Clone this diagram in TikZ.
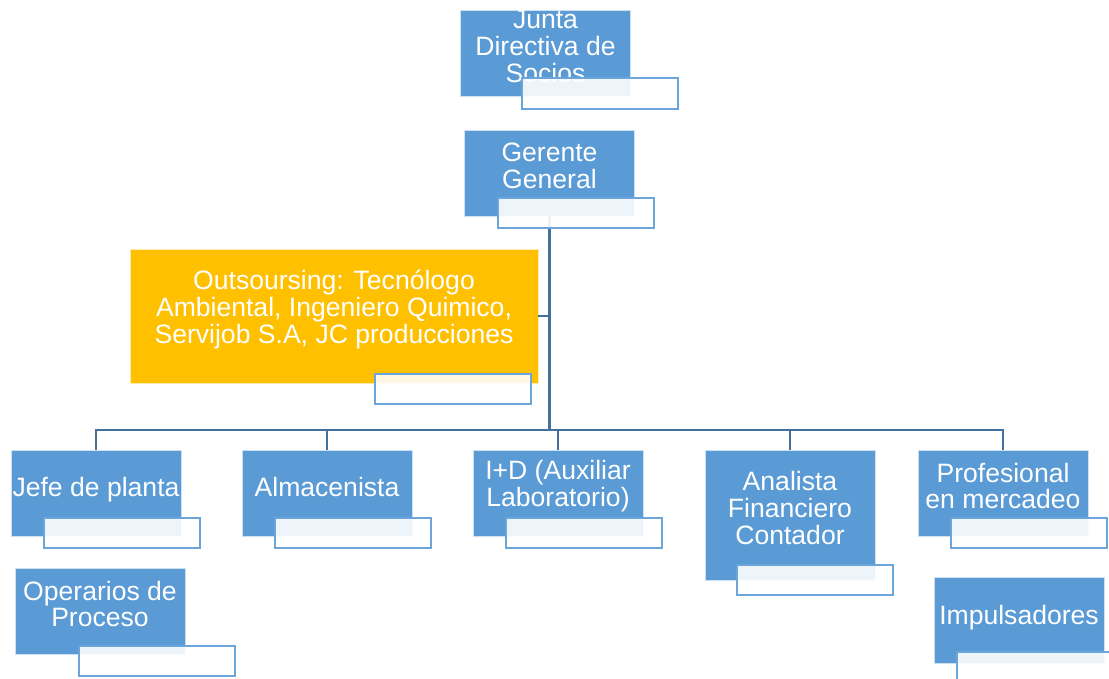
\documentclass[tikz,border=0pt]{standalone}
\usepackage{fontspec}
\setmainfont{Liberation Sans}
\definecolor{cargoazul}{HTML}{5B9BD5}
\definecolor{lineaazul}{HTML}{41719C}
\definecolor{naranja}{HTML}{FFC000}
\tikzset{cargo/.style={draw=white!70!cargoazul, line width=0.3pt, fill=cargoazul, minimum width=42.5mm, minimum height=21.5mm, inner sep=0pt}}
\tikzset{texto/.style={text=white, align=center, inner sep=0pt, font=\fontsize{18.9}{19.2}\selectfont}}
\tikzset{unalinea/.style={texto, anchor=base}}
\tikzset{titulo/.style={draw=cargoazul!90!white, line width=0.5mm, fill=white, fill opacity=0.9, minimum width=39mm, minimum height=7.5mm, inner sep=0pt}}
\tikzset{enlace/.style={draw=lineaazul, line width=0.6mm}}

\begin{document}
\begin{tikzpicture}[x=0.25mm, y=-0.25mm]
\useasboundingbox (0,0) rectangle (1109,679);
\node[cargo] (junta) at (545.5,53) {};
\node[cargo] (gerente) at (549.5,173) {};
\node[cargo, fill=naranja, draw=white!70!naranja, minimum width=102mm, minimum height=33.5mm] (outsourcing) at (334,316) {};
\node[cargo] (jefe) at (96,493) {};
\node[cargo] (almacenista) at (327,493) {};
\node[cargo] (id) at (558,493) {};
\node[cargo, minimum height=32.5mm] (analista) at (790,515) {};
\node[cargo] (profesional) at (1003,493) {};
\node[cargo] (operarios) at (100,611) {};
\node[cargo] (impulsadores) at (1019,620) {};

% lineas de mando
\coordinate (bus) at (549.5,430);
\draw[enlace] (gerente.south) -- (bus);
\draw[enlace] (outsourcing.east) -- (outsourcing.east -| bus);
\draw[enlace] (jefe.north) -- (bus -| jefe.north) -- (bus -| profesional.north) -- (profesional.north);
\foreach \hijo in {almacenista, id, analista}
  \draw[enlace] (bus -| \hijo.north) -- (\hijo.north);

\node[texto] at ([yshift=1.75mm]junta.center) {Junta\\Directiva de\\Socios};
\node[texto] at ([yshift=1.75mm]gerente.center) {Gerente\\General};
\node[texto] at ([yshift=1.75mm]outsourcing.center) {Outsoursing: Tecnólogo\\Ambiental, Ingeniero Quimico,\\Servijob S.A, JC producciones};
\node[unalinea] at ([yshift=-0.9mm]jefe.center) {Jefe de planta};
\node[unalinea] at ([yshift=-0.9mm]almacenista.center) {Almacenista};
\node[texto] at ([yshift=1.75mm]id.center) {I+D (Auxiliar\\Laboratorio)};
\node[texto] at ([yshift=1.75mm]analista.center) {Analista\\Financiero\\Contador};
\node[texto] at ([yshift=1.75mm]profesional.center) {Profesional\\en mercadeo};
\node[texto] at ([yshift=1.75mm]operarios.center) {Operarios de\\Proceso};
\node[unalinea] at ([yshift=-1.1mm]impulsadores.center) {Impulsadores};

% recuadros de nombre
\node[titulo] (juntanombre) at (600,93.5) {};
\node[titulo] (gerentenombre) at (576,213) {};
\node[titulo] (outsourcingnombre) at (452.5,389) {};
\node[titulo] (jefenombre) at (122,532.5) {};
\node[titulo] (almacenistanombre) at (353,532.5) {};
\node[titulo] (idnombre) at (584,532.5) {};
\node[titulo] (analistanombre) at (815,580) {};
\node[titulo] (profesionalnombre) at (1029,532.5) {};
\node[titulo] (operariosnombre) at (157,660.5) {};
\node[titulo] (impulsadoresnombre) at (1035,667) {};
\end{tikzpicture}
\end{document}
